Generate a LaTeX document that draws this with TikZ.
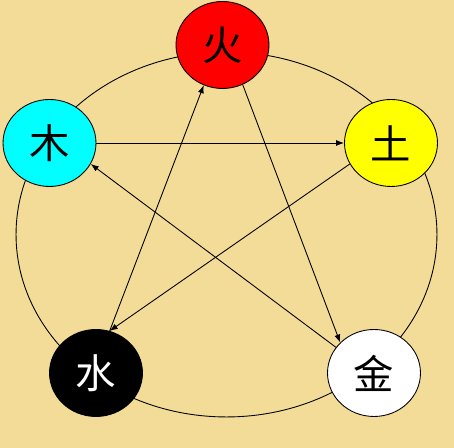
\documentclass[tikz,border=0pt]{standalone}
\usepackage{fontspec}
\newfontfamily\cjk{Noto Sans CJK SC}
\usetikzlibrary{arrows.meta,shapes.geometric}
\definecolor{paper}{HTML}{F3DC98}
\definecolor{firered}{HTML}{FF0000}
\definecolor{earthyellow}{HTML}{FFFF00}
\definecolor{woodcyan}{HTML}{00FFFF}

\begin{document}
\begin{tikzpicture}[x=0.02cm, y=-0.02cm,
    elem/.style={ellipse, draw, line width=0.5pt, minimum width=1.86cm, minimum height=1.74cm,
      inner sep=0pt, font=\cjk\fontsize{23}{23}\selectfont},
    ke/.style={-{Latex[length=1.6mm,width=1.2mm]}, line width=0.5pt}]
  \fill[paper] (0,0) rectangle (454,448);
  \useasboundingbox (0,0) rectangle (454,448);

  \draw[line width=0.5pt] (226.5,234.5) ellipse [x radius=4.21cm, y radius=3.65cm];

  \node[elem, fill=firered] (huo) at (222.5,45) {火};
  \node[elem, fill=earthyellow] (tu) at (391,143) {土};
  \node[elem, fill=white] (jin) at (374,373) {金};
  \node[elem, fill=black, text=white] (shui) at (96,373) {水};
  \node[elem, fill=woodcyan] (mu) at (49.5,143) {木};

  \draw[ke] (mu.east) -- (tu.west);
  \draw[ke] (tu.207) -- (shui.72);
  \draw[ke] (shui.72) -- (huo.245);
  \draw[ke] (huo.297) -- (jin.138);
  \draw[ke] (jin.146) -- (mu.333);
\end{tikzpicture}
\end{document}
